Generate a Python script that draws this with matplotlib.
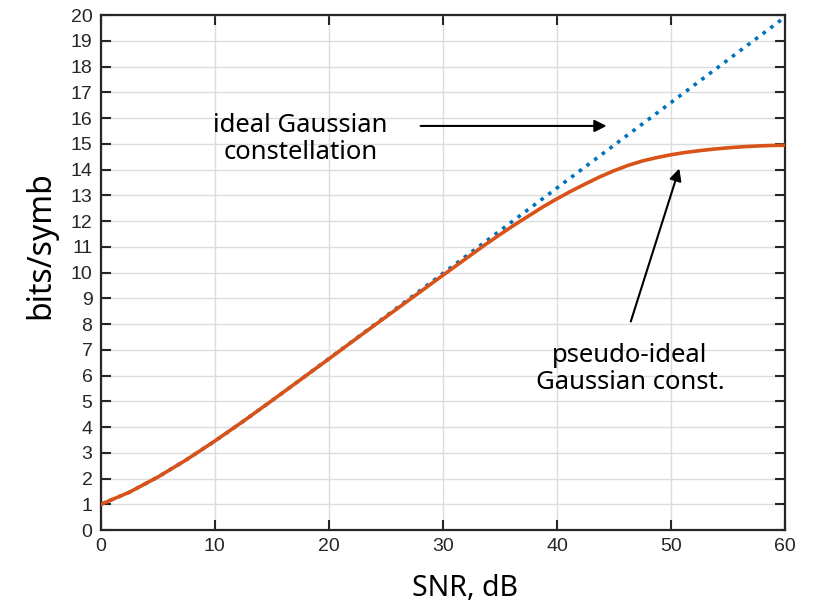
import numpy as np
import matplotlib
matplotlib.use('Agg')
import matplotlib.pyplot as plt

# Values
# ideal Gaussian constellation (dotted blue)
snr_ideal = [0, 2.5, 5, 7.5, 10, 12.5, 15, 17.5, 20, 22.5, 25, 27.5, 30, 32.5,
             35, 37.5, 40, 42.5, 45, 47.5, 50, 52.5, 55, 57.5, 60]
ideal_bits = [1.0, 1.47, 2.06, 2.73, 3.46, 4.23, 5.03, 5.84, 6.66, 7.48, 8.31,
              9.14, 9.97, 10.80, 11.63, 12.46, 13.29, 14.12, 14.95, 15.78,
              16.61, 17.44, 18.27, 19.10, 19.93]

# pseudo-ideal Gaussian constellation (solid orange)
snr_pseudo = [0, 2.5, 5, 7.5, 10, 12.5, 15, 17.5, 20, 22.5, 25, 27.5,
              30, 31.25, 32.5, 33.75, 35, 36.25, 37.5, 38.75, 40, 41.25,
              42.5, 43.75, 45, 46.25, 47.5, 48.75, 50, 51.25, 52.5, 53.75,
              55, 56.25, 57.5, 58.75, 60]
pseudo_bits = [1.0, 1.47, 2.06, 2.73, 3.46, 4.23, 5.03, 5.84, 6.65, 7.47, 8.28,
               9.09, 9.9, 10.3, 10.7, 11.1, 11.48, 11.85, 12.2, 12.55, 12.87,
               13.17, 13.45, 13.72, 13.96, 14.17, 14.34, 14.47, 14.58, 14.67,
               14.74, 14.8, 14.85, 14.89, 14.92, 14.94, 14.95]

x_ticks = [0, 10, 20, 30, 40, 50, 60]
y_ticks = list(range(0, 21))

fig = plt.figure(figsize=(8.13, 6.10), dpi=100)
ax = fig.add_axes([0.124, 0.131, 0.8416, 0.844])

ax.plot(snr_ideal, ideal_bits, color='#0072BD', linestyle=':', linewidth=2.6,
        zorder=3)
ax.plot(snr_pseudo, pseudo_bits, color='#D95319', linestyle='-', linewidth=2.6,
        zorder=4)

ax.set_xlim(0, 60)
ax.set_ylim(0, 20)
ax.set_xticks(x_ticks)
ax.set_yticks(y_ticks)
ax.grid(True, color='#dcdcdc', linewidth=1.0)
ax.set_axisbelow(True)

ax.tick_params(direction='in', length=7, width=1.5, colors='#262626',
               labelsize=14, top=True, right=True, pad=6)
for lab in ax.get_xticklabels() + ax.get_yticklabels():
    lab.set_family('Liberation Sans')
for sp in ax.spines.values():
    sp.set_color('#262626')
    sp.set_linewidth(1.6)

tfont = ['Noto Sans', 'DejaVu Sans']
ax.set_xlabel('SNR, dB', fontsize=20.5, family=tfont)
ax.set_ylabel('bits/symb', fontsize=23, family=tfont)
ax.xaxis.set_label_coords(0.532, -0.085)
ax.yaxis.set_label_coords(-0.064, 0.553)

ax.text(17.5, 15.2, 'ideal Gaussian\nconstellation', fontsize=18.5,
        family=tfont, ha='center', va='center', linespacing=1.1)
ax.text(46.4, 6.25, 'pseudo-ideal\nGaussian const.', fontsize=18.5,
        family=tfont, ha='center', va='center', linespacing=1.1)

ax.annotate('', xy=(44.6, 15.7), xytext=(27.8, 15.7),
            arrowprops=dict(arrowstyle='-|>', color='black', lw=1.5,
                            mutation_scale=18))
ax.annotate('', xy=(50.8, 14.15), xytext=(46.4, 8.0),
            arrowprops=dict(arrowstyle='-|>', color='black', lw=1.5,
                            mutation_scale=18))

plt.savefig('out.png', dpi=100)
